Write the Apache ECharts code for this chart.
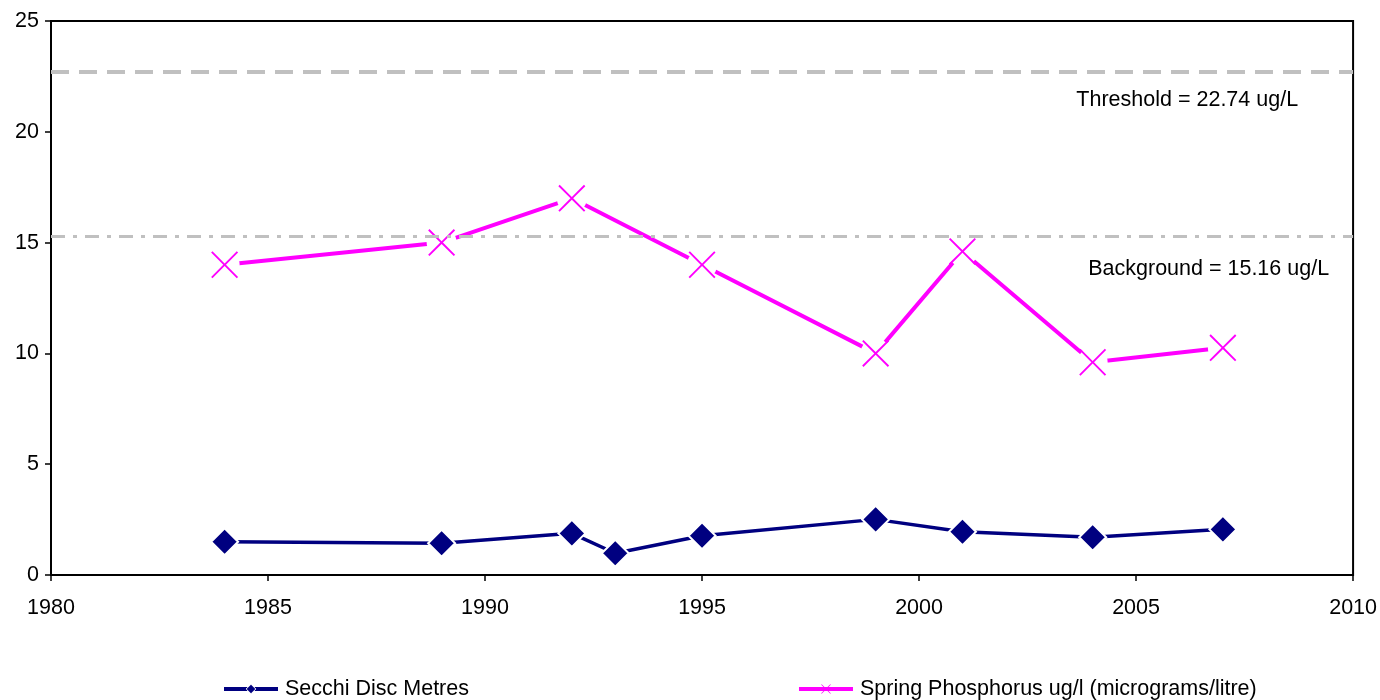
<!DOCTYPE html>
<html><head><meta charset="utf-8">
<script src="https://cdn.jsdelivr.net/npm/echarts@6/dist/echarts.min.js"></script>
<style>html,body{margin:0;padding:0;background:#fff}#c{width:1380px;height:700px}</style>
</head><body><div id="c"></div>
<script>
const secchiData = [[1984,1.5],[1989,1.43],[1992,1.88],[1993,0.98],[1995,1.77],[1999,2.51],[2001,1.95],[2004,1.70],[2007,2.06]];
const phosData = [[1984,14],[1989,15],[1992,17],[1995,14],[1999,10],[2001,14.6],[2004,9.6],[2007,10.25]];
const thresholdValue = 22.7;
const backgroundValue = 15.3;
const thresholdLabel = 'Threshold = 22.74 ug/L';
const backgroundLabel = 'Background = 15.16 ug/L';
const seriesNames = ['Secchi Disc Metres','Spring Phosphorus ug/l (micrograms/litre)'];

const xPath = 'path://M0,5L5,0L50,45L95,0L100,5L55,50L100,95L95,100L50,55L5,100L0,95L45,50Z';
const font = 'Arial, "Liberation Sans", sans-serif';
const fs = 21.5;
const chart = echarts.init(document.getElementById('c'));
chart.setOption({
  animation:false,
  textStyle:{fontFamily:font},
  grid:{left:51,right:25,top:21,bottom:125,show:true,borderColor:'#000',borderWidth:2},
  xAxis:{type:'value',min:1980,max:2010,interval:5,
    axisLine:{show:true,lineStyle:{color:'#000',width:2}},
    axisTick:{show:true,length:6,lineStyle:{color:'#000',width:1.5}},
    axisLabel:{color:'#000',fontSize:fs,margin:22,fontFamily:font,formatter:v=>String(v)},
    splitLine:{show:false}},
  yAxis:{type:'value',min:0,max:25,interval:5,
    axisLine:{show:true,lineStyle:{color:'#000',width:2}},
    axisTick:{show:true,length:6,lineStyle:{color:'#000',width:1.5}},
    axisLabel:{color:'#000',fontSize:fs,margin:12,fontFamily:font},
    splitLine:{show:false}},
  legend:{top:678,left:222,padding:0,itemGap:328,itemWidth:54,itemHeight:12,
    textStyle:{color:'#000',fontSize:fs,fontFamily:font,padding:[0,0,0,2]},
    data:[
      {name:seriesNames[0],itemStyle:{borderColor:'#fff',borderWidth:1},lineStyle:{width:4}},
      {name:seriesNames[1],itemStyle:{borderWidth:0},lineStyle:{color:'#ff00ff',width:4,opacity:1}}
    ]},
  series:[
    {name:seriesNames[0],type:'line',data:secchiData,
      lineStyle:{color:'#000080',width:3.5},
      symbol:'diamond',symbolSize:27,
      itemStyle:{color:'#000080',borderColor:'#fff',borderWidth:2},
      z:3},
    {name:'phosLine',type:'line',data:phosData,silent:true,
      lineStyle:{color:'#ff00ff',width:4},
      symbol:'circle',symbolSize:30,showSymbol:true,
      itemStyle:{color:'#fff',borderWidth:0},
      z:2},
    {name:seriesNames[1],type:'line',data:phosData,
      lineStyle:{color:'#ff00ff',width:4,opacity:0},
      symbol:xPath,symbolSize:27,
      itemStyle:{color:'#ff00ff',borderWidth:0},
      z:3,
      markLine:{silent:true,symbol:'none',
        data:[
          {yAxis:thresholdValue,
            lineStyle:{color:'#c0c0c0',width:4,type:[18,10]},
            label:{show:true,formatter:thresholdLabel,position:'insideEndBottom',color:'#000',fontSize:fs,fontFamily:font,padding:[12,50,0,0]}},
          {yAxis:backgroundValue,
            lineStyle:{color:'#c0c0c0',width:3,type:[14,8,4,8]},
            label:{show:true,formatter:backgroundLabel,position:'insideEndBottom',color:'#000',fontSize:fs,fontFamily:font,padding:[17,19,0,0]}}
        ]}}
  ]
});
</script></body></html>
